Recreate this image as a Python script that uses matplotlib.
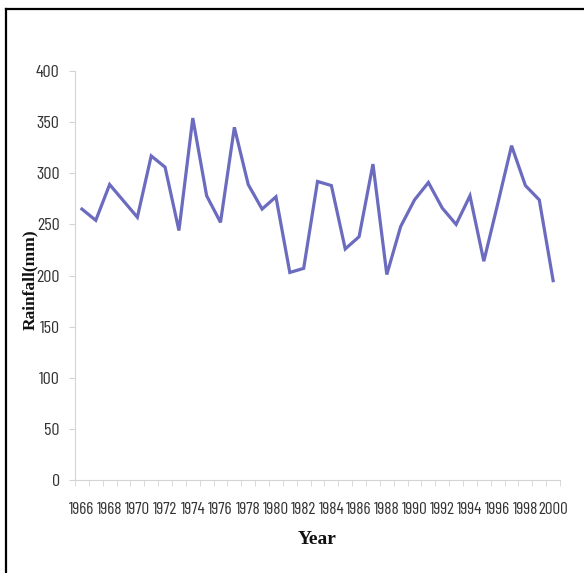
# annual rainfall line chart, 1966-2000

import matplotlib
matplotlib.use("Agg")
import matplotlib.pyplot as plt
from matplotlib.lines import Line2D
import numpy as np

LINE_COLOR = "#6b6bbf"
AXIS_COLOR = "#d4d4d4"
TICK_TEXT = "#333333"

years = list(range(1966, 2001))
rainfall = [265, 254, 289, 273, 257, 317, 306, 244, 354, 278,
            252, 345, 289, 265, 277, 203, 207, 292, 288, 226,
            238, 309, 201, 248, 274, 291, 266, 250, 278, 214,
            270, 327, 288, 274, 195]
y_ticks = [0, 50, 100, 150, 200, 250, 300, 350, 400]
x_labels = [y for y in years if y % 2 == 0]

narrow = ["Barlow Condensed", "DejaVu Sans"]
serif = ["Liberation Serif", "DejaVu Serif"]

fig = plt.figure(figsize=(5.84, 5.73), dpi=100)
fig.patch.set_facecolor("white")
ax = fig.add_axes([0.1284, 0.1623, 0.8306, 0.7137])

ax.plot(years, rainfall, color=LINE_COLOR, linewidth=2.3, solid_joinstyle="miter")

ax.set_xlim(years[0] - 0.5, years[-1] + 0.5)
ax.set_ylim(0, 400)
ax.set_yticks(y_ticks)
ax.set_xticks(x_labels)
ax.set_xticks(np.arange(years[0] - 0.5, years[-1] + 1, 1), minor=True)

ax.tick_params(axis="x", which="major", length=0, pad=16)
ax.tick_params(axis="x", which="minor", length=4, color=AXIS_COLOR, direction="out")
ax.tick_params(axis="y", length=4, color=AXIS_COLOR, pad=7)

for lab in ax.get_xticklabels():
    lab.set_family(narrow)
    lab.set_fontsize(12.3)
    lab.set_color(TICK_TEXT)
for lab in ax.get_yticklabels():
    lab.set_family(narrow)
    lab.set_fontsize(13)
    lab.set_color(TICK_TEXT)

for side in ["top", "right"]:
    ax.spines[side].set_visible(False)
for side in ["left", "bottom"]:
    ax.spines[side].set_color(AXIS_COLOR)
    ax.spines[side].set_linewidth(0.8)

# axis titles (serif bold like the scanned figure)
fig.text(317 / 584, 1 - 540 / 573, "Year", family=serif, fontweight="bold",
         fontsize=14, ha="center", va="center", color="#111111")
fig.text(30 / 584, 1 - 280 / 573, "Rainfall(mm)", family=serif, fontweight="bold",
         fontsize=12.5, ha="center", va="center", rotation=90, color="#111111")

# black frame of the scanned page (top and left edges only)
fig.add_artist(Line2D([6 / 584, 1], [1 - 9 / 573, 1 - 9 / 573], color="black", linewidth=1.6))
fig.add_artist(Line2D([6 / 584, 6 / 584], [0, 1 - 9 / 573], color="black", linewidth=1.6))

fig.savefig("out.png", dpi=100)
